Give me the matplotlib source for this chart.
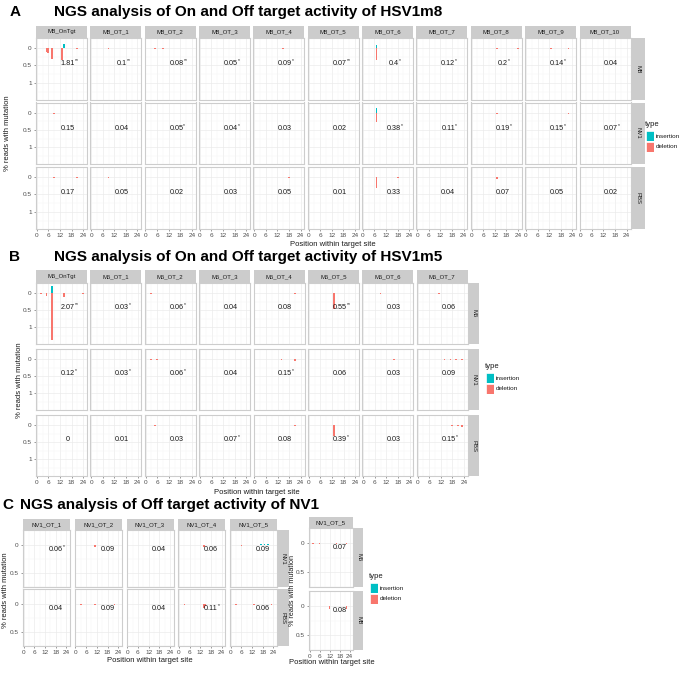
import matplotlib
matplotlib.use("Agg")
import matplotlib.pyplot as plt

plt.rcParams['font.family'] = ['Liberation Sans', 'DejaVu Sans']

W, H = 700, 673
DEL_COL = '#F8766D'
INS_COL = '#00BFC4'
STRIP_COL = '#CCCCCC'
BORDER_COL = '#CDCDCD'

# ---------------- panel A data ----------------
a_cols = ['M8_OnTgt', 'M8_OT_1', 'M8_OT_2', 'M8_OT_3', 'M8_OT_4', 'M8_OT_5',
          'M8_OT_6', 'M8_OT_7', 'M8_OT_8', 'M8_OT_9', 'M8_OT_10']
a_rows = ['M8', 'NV1', 'PBS']
a_values = [['1.81', '0.1', '0.08', '0.05', '0.09', '0.07', '0.4', '0.12', '0.2', '0.14', '0.04'],
            ['0.15', '0.04', '0.05', '0.04', '0.03', '0.02', '0.38', '0.11', '0.19', '0.15', '0.07'],
            ['0.17', '0.05', '0.02', '0.03', '0.05', '0.01', '0.33', '0.04', '0.07', '0.05', '0.02']]
a_stars = [['**', '**', '**', '*', '*', '**', '*', '*', '*', '*', ''],
           ['', '', '*', '*', '', '', '*', '*', '*', '*', '*'],
           ['', '', '', '', '', '', '', '', '', '', '']]
a_del = [[[(5, 0.1), (6, 0.15), (8, 0.32), (13, 0.35), (21, 0.02)],
          [(9, 0.02), (16, 0.01)], [(5, 0.02), (9, 0.02), (14, 0.01)],
          [(4, 0.01), (12, 0.01), (20, 0.01)], [(13, 0.01), (15, 0.02), (20, 0.01)],
          [(3, 0.01), (7, 0.01), (13, 0.01)], [(7, 0.35), (14, 0.01), (20, 0.01)],
          [(9, 0.01), (13, 0.01), (17, 0.01)], [(13, 0.04), (19, 0.01), (24, 0.03)],
          [(13, 0.02), (18, 0.01), (22, 0.03)], [(3, 0.01), (9, 0.01)]],
         [[(3, 0.01), (9, 0.04)], [(9, 0.01)], [(9, 0.02)], [(4, 0.01), (7, 0.01)],
          [(12, 0.01)], [(5, 0.01)], [(7, 0.28), (14, 0.01)],
          [(9, 0.01), (13, 0.01), (17, 0.01)], [(13, 0.04), (17, 0.01), (24, 0.02)],
          [(13, 0.01), (22, 0.03)], [(3, 0.01)]],
         [[(3, 0.01), (6, 0.01), (9, 0.04), (21, 0.02)], [(9, 0.02), (16, 0.01)],
          [(9, 0.01)], [(13, 0.01)], [(13, 0.01), (18, 0.02)], [(4, 0.01)],
          [(7, 0.32), (18, 0.02)], [(10, 0.01)], [(13, 0.06), (17, 0.01)],
          [(12, 0.01), (19, 0.01)], [(4, 0.01), (9, 0.01)]]]
a_ins = [[[(14, 0.12)], [], [], [], [], [], [(7, 0.1)], [], [], [], []],
         [[], [], [], [], [], [], [(7, 0.12)], [], [], [], []],
         [[], [], [], [], [], [], [], [], [], [], []]]

# ---------------- panel B data ----------------
b_cols = ['M5_OnTgt', 'M5_OT_1', 'M5_OT_2', 'M5_OT_3', 'M5_OT_4', 'M5_OT_5', 'M5_OT_6', 'M5_OT_7']
b_rows = ['M5', 'NV1', 'PBS']
b_values = [['2.07', '0.03', '0.06', '0.04', '0.08', '0.55', '0.03', '0.06'],
            ['0.12', '0.03', '0.06', '0.04', '0.15', '0.06', '0.03', '0.09'],
            ['0', '0.01', '0.03', '0.07', '0.08', '0.39', '0.03', '0.15']]
b_stars = [['**', '*', '*', '', '', '**', '', ''],
           ['*', '*', '*', '', '*', '', '', ''],
           ['', '', '', '*', '', '*', '', '*']]
b_del = [[[(2, 0.02), (5, 0.1), (8, 1.35), (14, 0.12), (21, 0.01), (24, 0.02)],
          [(9, 0.01), (14, 0.01)], [(3, 0.02)], [(9, 0.01)], [(14, 0.01), (21, 0.04)],
          [(13, 0.45)], [(9, 0.03)], [(11, 0.02)]],
         [[], [(22, 0.01)], [(3, 0.02), (6, 0.02), (23, 0.01)], [],
          [(14, 0.02), (21, 0.07)], [(3, 0.01), (9, 0.01)], [(16, 0.02)],
          [(4, 0.01), (9, 0.01), (14, 0.02), (17, 0.02), (20, 0.02), (23, 0.02)]],
         [[], [(20, 0.01)], [(5, 0.02)], [(8, 0.01), (20, 0.01)], [(21, 0.04)],
          [(13, 0.33)], [(3, 0.01), (9, 0.01)], [(18, 0.02), (21, 0.02), (23, 0.05)]]]
b_ins = [[[(8, 0.19)], [], [], [], [], [], [], []],
         [[], [], [], [], [], [], [], []],
         [[], [], [], [], [], [], [], []]]

# ---------------- panel C data ----------------
c_cols = ['NV1_OT_1', 'NV1_OT_2', 'NV1_OT_3', 'NV1_OT_4', 'NV1_OT_5']
c_rows = ['NV1', 'PBS']
c_values = [['0.06', '0.09', '0.04', '0.06', '0.09'],
            ['0.04', '0.09', '0.04', '0.11', '0.06']]
c_stars = [['*', '', '', '', ''],
           ['', '', '', '*', '']]
c_del = [[[(5, 0.01), (13, 0.01), (23, 0.01)], [(2, 0.01), (6, 0.01), (11, 0.04)],
          [(4, 0.01)], [(14, 0.04)], [(6, 0.02), (13, 0.01)]],
         [[(7, 0.01), (13, 0.01)], [(3, 0.03), (11, 0.03), (22, 0.02)],
          [(6, 0.01), (9, 0.01)], [(3, 0.02), (14, 0.08), (15, 0.04)],
          [(3, 0.03), (13, 0.03), (23, 0.03)]]]
c_ins = [[[], [], [], [], [(17, 0.02), (19, 0.02), (21, 0.02)]],
         [[], [], [], [], []]]

d_cols = ['NV1_OT_5']
d_rows = ['M5', 'M8']
d_values = [['0.07'], ['0.08']]
d_stars = [[''], ['']]
d_del = [[[(2, 0.01), (6, 0.01), (16, 0.01), (22, 0.02)]],
         [[(12, 0.04), (22, 0.04)]]]
d_ins = [[[]], [[]]]

xticks = [0, 6, 12, 18, 24]


def px_axes(fig, x, y, w, h):
    return fig.add_axes([x / W, 1 - (y + h) / H, w / W, h / H])


def fig_text(fig, x, y, s, **kw):
    fig.text(x / W, 1 - y / H, s, **kw)


def facet_grid(fig, cols, rows, values, stars, dels, inss, x0, dx, w, tops, h,
               strip_h, rstrip_w, ylim, yticks, ytlabels, text_xy):
    for i, rname in enumerate(rows):
        for j, cname in enumerate(cols):
            x = x0 + j * dx
            ax = px_axes(fig, x, tops[i], w, h)
            ax.set_xlim(-0.4, 26)
            ax.set_ylim(*ylim)
            ax.set_xticks(xticks)
            ax.set_xticks([3, 9, 15, 21], minor=True)
            ax.set_yticks(yticks)
            ax.set_yticks([(a + b) / 2 for a, b in zip(yticks[:-1], yticks[1:])] +
                          [yticks[-1] + (yticks[1] - yticks[0]) / 2], minor=True)
            ax.grid(True, which='major', color='#EBEBEB', lw=0.5)
            ax.grid(True, which='minor', color='#F4F4F4', lw=0.3)
            ax.set_axisbelow(True)
            for sp in ax.spines.values():
                sp.set_color(BORDER_COL)
                sp.set_linewidth(0.8)
            ax.tick_params(which='both', length=0, labelsize=4.6, colors='#4D4D4D', pad=1.5)
            ax.tick_params(which='major', length=1.5, width=0.4)
            ax.tick_params(which='minor', length=0)
            if j == 0:
                ax.set_yticklabels(ytlabels)
            else:
                ax.tick_params(axis='y', which='major', length=0, labelleft=False)
            if i == len(rows) - 1:
                ax.set_xticklabels([str(t) for t in xticks])
            else:
                ax.tick_params(axis='x', which='major', length=0, labelbottom=False)
            d = dels[i][j]
            if d:
                ax.bar([p for p, v in d], [v for p, v in d], width=0.9, color=DEL_COL, lw=0)
            ins = inss[i][j]
            if ins:
                ax.bar([p for p, v in ins], [-v for p, v in ins], width=0.9, color=INS_COL, lw=0)
            t = ax.text(text_xy[0], text_xy[1], values[i][j], ha='center', va='center',
                        fontsize=5.2, color='#1A1A1A')
            if stars[i][j]:
                ax.annotate(stars[i][j], xy=(1.0, 0.55), xycoords=t, ha='left', va='bottom',
                            fontsize=3.6, color='#1A1A1A')
            if i == 0:
                sax = px_axes(fig, x, tops[0] - strip_h, w, strip_h)
                sax.set_facecolor(STRIP_COL)
                sax.set_xticks([])
                sax.set_yticks([])
                for sp in sax.spines.values():
                    sp.set_visible(False)
                sax.text(0.5, 0.5, cname, ha='center', va='center', fontsize=4.3,
                         color='#1A1A1A', transform=sax.transAxes)
        rx = x0 + (len(cols) - 1) * dx + w + 1
        rax = px_axes(fig, rx, tops[i], rstrip_w, h)
        rax.set_facecolor(STRIP_COL)
        rax.set_xticks([])
        rax.set_yticks([])
        for sp in rax.spines.values():
            sp.set_visible(False)
        rax.text(0.5, 0.5, rname, ha='center', va='center', fontsize=4.3, rotation=-90,
                 color='#1A1A1A', transform=rax.transAxes)


def legend(fig, x, y):
    fig_text(fig, x, y, 'type', fontsize=5.5, ha='left', va='center', color='#1A1A1A')
    for k, (lab, col) in enumerate([('insertion', INS_COL), ('deletion', DEL_COL)]):
        kax = px_axes(fig, x + 1, y + 6 + k * 11, 8, 10)
        kax.set_facecolor(col)
        kax.set_xticks([])
        kax.set_yticks([])
        for sp in kax.spines.values():
            sp.set_color('white')
            sp.set_linewidth(0.6)
        fig_text(fig, x + 11, y + 11 + k * 11, lab, fontsize=4.6, ha='left', va='center',
                 color='#1A1A1A')


fig = plt.figure(figsize=(W / 100, H / 100), dpi=100)

# panel A
fig_text(fig, 15, 12, 'A', fontsize=11, fontweight='bold', ha='center', va='center')
fig_text(fig, 248, 12, 'NGS analysis of On and Off target activity of HSV1m8', fontsize=11,
         fontweight='bold', ha='center', va='center')
facet_grid(fig, a_cols, a_rows, a_values, a_stars, a_del, a_ins,
           36, 54.35, 51, [38, 102.5, 167], 61.5, 12, 13,
           (1.48, -0.29), [0, 0.5, 1], ['0', '0.5', '1'], (16, 0.45))
fig_text(fig, 333, 244, 'Position within target site', fontsize=5.5, ha='center', va='center',
         color='#1A1A1A')
fig_text(fig, 8, 133, '% reads with mutation', fontsize=5.5, ha='center', va='center',
         rotation=90, color='#1A1A1A')
legend(fig, 645, 125)

# panel B
fig_text(fig, 15, 257, 'B', fontsize=11, fontweight='bold', ha='center', va='center')
fig_text(fig, 248, 257, 'NGS analysis of On and Off target activity of HSV1m5', fontsize=11,
         fontweight='bold', ha='center', va='center')
facet_grid(fig, b_cols, b_rows, b_values, b_stars, b_del, b_ins,
           36, 54.4, 51, [283, 349, 415], 61, 13, 10,
           (1.48, -0.29), [0, 0.5, 1], ['0', '0.5', '1'], (16, 0.42))
fig_text(fig, 257, 492, 'Position within target site', fontsize=5.5, ha='center', va='center',
         color='#1A1A1A')
fig_text(fig, 20, 380, '% reads with mutation', fontsize=5.5, ha='center', va='center',
         rotation=90, color='#1A1A1A')
legend(fig, 485, 367)

# panel C
fig_text(fig, 8, 505, 'C', fontsize=11, fontweight='bold', ha='center', va='center')
fig_text(fig, 170, 505, 'NGS analysis of Off target activity of NV1', fontsize=11,
         fontweight='bold', ha='center', va='center')
facet_grid(fig, c_cols, c_rows, c_values, c_stars, c_del, c_ins,
           23, 51.75, 47, [530, 589], 57, 11, 11,
           (0.53, -0.26), [0, 0.5], ['0', '0.5'], (18, 0.08))
fig_text(fig, 150, 660, 'Position within target site', fontsize=5.5, ha='center', va='center',
         color='#1A1A1A')
fig_text(fig, 6, 590, '% reads with mutation', fontsize=5.5, ha='center', va='center',
         rotation=90, color='#1A1A1A')

facet_grid(fig, d_cols, d_rows, d_values, d_stars, d_del, d_ins,
           309, 0, 44, [528, 591], 59, 11, 9,
           (0.53, -0.26), [0, 0.5], ['0', '0.5'], (18, 0.08))
fig_text(fig, 332, 663, 'Position within target site', fontsize=5.5, ha='center', va='center',
         color='#1A1A1A')
fig_text(fig, 293, 590, '% reads with mutation', fontsize=5.2, ha='center', va='center',
         rotation=90, color='#1A1A1A')
legend(fig, 369, 577)

fig.savefig('out.png', dpi=100)
